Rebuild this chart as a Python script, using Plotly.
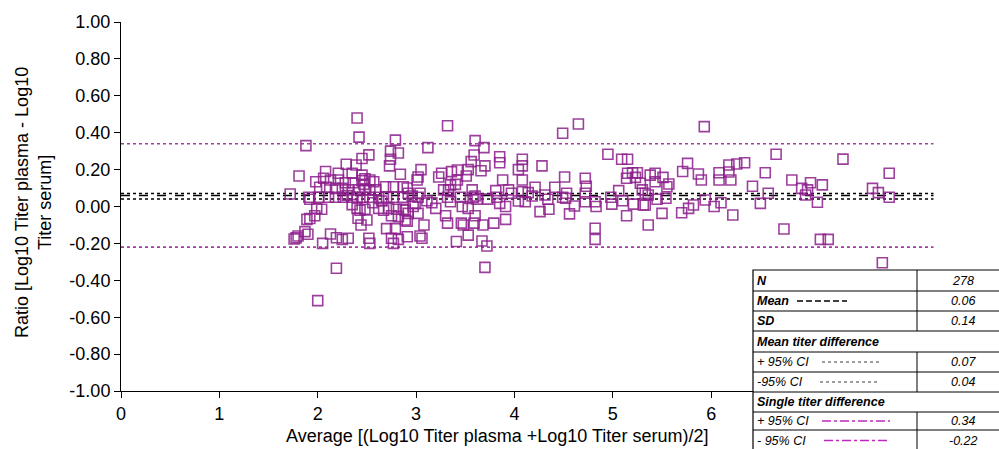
import plotly.graph_objects as go

# ---- data ----
avg_titer = [
    1.72, 1.76, 1.78, 1.81, 1.88, 2.08, 2.21, 2.35, 2.45, 2.48, 1.98, 2.06, 2.13, 2.21, 2.28, 2.36,
    2.45, 2.47, 2.53, 2.57, 2.69, 2.77, 2.87, 2.02, 2.09, 2.18, 2.25, 2.31, 2.42, 2.48, 2.53, 2.59,
    1.91, 2.01, 2.11, 2.18, 2.26, 2.35, 2.40, 2.46, 2.53, 2.62, 2.70, 2.77, 2.87, 1.92, 1.99, 2.04,
    1.97, 2.40, 2.43, 2.48, 2.62, 2.67, 2.72, 2.80, 2.87, 1.89, 1.92, 2.41, 2.50, 2.75, 2.82, 2.89,
    2.44, 2.70, 2.79, 2.13, 2.19, 2.25, 2.31, 2.52, 2.53, 1.87, 1.90, 1.80, 2.05, 2.75, 2.82, 2.77,
    2.91, 2.19, 2.00, 2.40, 2.42, 2.79, 2.74, 2.82, 2.52, 2.45, 2.74, 2.39, 2.29, 2.73, 2.84,
    2.30, 2.56, 2.65, 2.35,
    3.32, 3.12, 3.60, 3.69, 3.59, 3.56, 3.85, 3.85, 4.08, 4.08, 3.70, 3.66, 3.53, 3.42, 3.36, 3.05,
    3.26, 3.23, 3.02, 3.01, 3.51, 3.42, 3.40, 4.04, 4.08, 3.88, 3.35, 3.33, 2.91, 2.92, 3.04, 3.28,
    3.57, 3.60, 3.81, 3.82, 3.94, 3.97, 4.08, 4.04, 4.11, 2.96, 3.02, 2.99, 3.11, 3.16, 3.32, 3.35,
    3.45, 3.58, 3.62, 3.73, 3.85, 3.91, 2.97, 2.89, 2.92, 3.20, 3.47, 3.53, 3.02, 3.30, 3.60, 2.91,
    3.91, 3.32, 3.46, 3.48, 3.59, 3.68, 3.79, 3.08, 3.53, 3.04, 3.06, 3.41, 3.67, 3.72, 3.70,
    4.65, 4.49, 4.95, 5.09, 5.15, 4.28, 4.51, 4.72, 4.73, 5.15, 5.20, 5.25, 5.23, 5.14, 5.28, 5.30,
    5.38, 4.21, 4.41, 4.14, 4.18, 4.31, 4.34, 4.49, 4.53, 4.52, 4.72, 4.72, 4.82, 4.83, 4.98, 4.99,
    5.06, 5.10, 5.21, 5.31, 4.26, 4.35, 4.56, 4.61, 5.14, 5.36, 4.82, 4.82,
    5.93, 5.76, 5.71, 5.43, 5.43, 5.51, 5.57, 5.55, 5.87, 5.90, 6.08, 6.08, 6.18, 6.26, 6.34, 6.18,
    6.20, 6.55, 6.42, 5.33, 5.36, 5.33, 5.45, 5.54, 5.94, 6.03, 6.10, 5.82, 5.77, 6.50, 6.58, 5.70,
    5.50, 6.22,
    6.66, 7.34, 6.82, 7.81, 6.92, 7.01, 7.13, 6.98, 6.96, 7.08, 7.64, 7.70, 7.81, 6.74, 7.11, 7.19,
    7.74,
]
log_ratio = [
    0.068, -0.176, -0.170, 0.165, 0.330, 0.190, 0.180, 0.180, 0.170, 0.150, 0.134, 0.153, 0.144, 0.144, 0.129, 0.129,
    0.140, 0.120, 0.144, 0.134, 0.107, 0.107, 0.107, 0.104, 0.104, 0.098, 0.098, 0.090, 0.090, 0.090, 0.090, 0.090,
    0.050, 0.050, 0.050, 0.050, 0.050, 0.050, 0.050, 0.050, 0.050, 0.050, 0.050, 0.050, 0.050, 0.039, -0.010, -0.015,
    -0.050, -0.010, -0.020, -0.015, -0.010, -0.020, -0.010, -0.015, -0.015, -0.070, -0.065, -0.064, -0.073, -0.050, -0.055, -0.073,
    -0.100, -0.120, -0.120, -0.149, -0.169, -0.178, -0.172, -0.172, -0.200, -0.136, -0.150, -0.160, -0.200, -0.172, -0.178, -0.200,
    -0.164, -0.335, -0.510, 0.480, 0.376, 0.360, 0.300, 0.290, 0.280, 0.260, 0.256, 0.225, 0.229, 0.220, 0.175,
    0.060, 0.020, 0.030, 0.010,
    0.438, 0.319, 0.357, 0.319, 0.279, 0.243, 0.270, 0.237, 0.256, 0.220, 0.220, 0.194, 0.200, 0.198, 0.189, 0.200,
    0.180, 0.160, 0.160, 0.144, 0.165, 0.144, 0.120, 0.200, 0.144, 0.144, 0.117, 0.090, 0.100, 0.072, 0.072, 0.090,
    0.090, 0.057, 0.086, 0.050, 0.090, 0.072, 0.080, 0.030, 0.026, 0.057, 0.050, 0.017, 0.031, 0.020, 0.050, 0.026,
    0.050, 0.050, 0.040, 0.040, 0.017, 0.000, 0.000, -0.020, -0.037, -0.010, 0.000, -0.010, -0.037, -0.050, -0.050, -0.080,
    -0.070, -0.090, -0.090, -0.100, -0.090, -0.100, -0.090, -0.100, -0.155, -0.160, -0.172, -0.190, -0.187, -0.214, -0.330,
    0.447, 0.397, 0.283, 0.256, 0.256, 0.220, 0.160, 0.153, 0.110, 0.180, 0.183, 0.183, 0.158, 0.153, 0.126, 0.090,
    0.170, 0.104, 0.104, 0.075, 0.057, 0.062, 0.039, 0.050, 0.072, 0.045, 0.072, 0.026, 0.026, 0.000, 0.050, 0.013,
    0.086, 0.031, 0.013, 0.008, -0.028, -0.015, -0.040, 0.003, -0.050, -0.100, -0.118, -0.178,
    0.433, 0.234, 0.190, 0.180, 0.134, 0.158, 0.122, 0.107, 0.176, 0.144, 0.183, 0.144, 0.225, 0.230, 0.237, 0.187,
    0.144, 0.183, 0.110, 0.072, 0.062, 0.008, 0.039, 0.045, 0.035, 0.000, 0.020, 0.008, -0.010, 0.017, 0.072, -0.034,
    -0.037, -0.046,
    0.283, 0.257, 0.144, 0.180, 0.098, 0.129, 0.117, 0.090, 0.062, 0.023, 0.098, 0.075, 0.050, -0.122, -0.178, -0.178,
    -0.305,
]

stat_labels = ["N", "Mean", "SD", "Mean titer difference", "+ 95% CI", "-95% CI",
               "Single titer difference", "+ 95% CI", "- 95% CI"]
stat_values = ["278", "0.06", "0.14", "", "0.07", "0.04", "", "0.34", "-0.22"]
mean_diff = 0.06
mean_ci = [0.07, 0.04]
single_ci = [0.34, -0.22]
y_ticks = [1.0, 0.8, 0.6, 0.4, 0.2, 0.0, -0.2, -0.4, -0.6, -0.8, -1.0]
x_ticks = [0, 1, 2, 3, 4, 5, 6, 7, 8]

PURPLE = "rgb(140,30,140)"
LINE_PURPLE = "rgb(165,60,165)"
FONT = "Liberation Sans, Arial, sans-serif"

W, H = 999, 449
L, R, T, B = 121, 37, 22, 58
PW, PH = W - L - R, H - T - B


def px(x):
    return (x - L) / PW


def py(y):
    return (H - B - y) / PH


fig = go.Figure()
fig.add_trace(go.Scatter(
    x=avg_titer, y=log_ratio, mode="markers",
    marker=dict(symbol="square-open", size=10, color=PURPLE, line=dict(width=1.6, color=PURPLE), opacity=0.85),
    showlegend=False, hoverinfo="x+y",
))

shapes = []
x_end = 8.26
shapes.append(dict(type="line", xref="x", yref="y", x0=0, x1=x_end, y0=mean_diff, y1=mean_diff,
                   line=dict(color="black", width=1.5, dash="dash"), layer="below"))
for v in mean_ci:
    shapes.append(dict(type="line", xref="x", yref="y", x0=0, x1=x_end, y0=v, y1=v,
                       line=dict(color="black", width=1.5, dash="dot"), layer="below"))
for v in single_ci:
    shapes.append(dict(type="line", xref="x", yref="y", x0=0, x1=x_end, y0=v, y1=v,
                       line=dict(color=LINE_PURPLE, width=1.6, dash="dot"), layer="below"))

# ---- statistics table ----
tx0, tx1, tcol = 753, 1002, 917
row_edges = [270, 291, 311, 331, 352, 372, 392, 412, 430, 451]
shapes.append(dict(type="rect", xref="paper", yref="paper", x0=px(tx0), x1=px(tx1),
                   y0=py(row_edges[-1]), y1=py(row_edges[0]), fillcolor="white",
                   line=dict(color="black", width=1.2), layer="above"))
for e in row_edges[1:-1]:
    shapes.append(dict(type="line", xref="paper", yref="paper", x0=px(tx0), x1=px(tx1),
                       y0=py(e), y1=py(e), line=dict(color="black", width=1), layer="above"))
for i in range(9):
    if i in (3, 6):
        continue
    shapes.append(dict(type="line", xref="paper", yref="paper", x0=px(tcol), x1=px(tcol),
                       y0=py(row_edges[i]), y1=py(row_edges[i + 1]), line=dict(color="black", width=1), layer="above"))

annotations = []
for i, (lab, val) in enumerate(zip(stat_labels, stat_values)):
    yc = py((row_edges[i] + row_edges[i + 1]) / 2)
    if i in (0, 1, 2, 3, 6):
        txt = "<b><i>%s</i></b>" % lab
    else:
        txt = "<i>%s</i>" % lab
    annotations.append(dict(xref="paper", yref="paper", x=px(tx0 + 3), y=yc, text=txt, showarrow=False,
                            xanchor="left", yanchor="middle", borderpad=0,
                            font=dict(family=FONT, size=12.5, color="black")))
    if val:
        annotations.append(dict(xref="paper", yref="paper", x=px(963), y=yc, text="<i>%s</i>" % val,
                                showarrow=False, xanchor="center", yanchor="middle", borderpad=0,
                                font=dict(family=FONT, size=12.5, color="black")))

# legend samples in table
samples = [(1, 797, 847, "black", "6px,3px", 1.4), (4, 822, 880, "rgb(60,60,60)", "dot", 1),
           (5, 820, 878, "rgb(60,60,60)", "dot", 1), (7, 822, 890, "rgb(190,40,190)", "dashdot", 1.4),
           (8, 824, 890, "rgb(190,40,190)", "dashdot", 1.4)]
for r, a, b, c, d, w in samples:
    yc = py((row_edges[r] + row_edges[r + 1]) / 2)
    shapes.append(dict(type="line", xref="paper", yref="paper", x0=px(a), x1=px(b), y0=yc, y1=yc,
                       line=dict(color=c, width=w, dash=d), layer="above"))

# axis titles
annotations.append(dict(xref="paper", yref="paper", x=px(33), y=py(203), textangle=-90,
                        text="Ratio [Log10 Titer plasma - Log10<br>Titer serum]", showarrow=False,
                        xanchor="center", yanchor="middle", font=dict(family=FONT, size=18, color="black")))
annotations.append(dict(xref="paper", yref="paper", x=px(497), y=py(436),
                        text="Average [(Log10 Titer plasma +Log10 Titer serum)/2]", showarrow=False,
                        xanchor="center", yanchor="middle", font=dict(family=FONT, size=18, color="black")))

fig.update_layout(
    width=W, height=H, margin=dict(l=L, r=R, t=T, b=B),
    paper_bgcolor="white", plot_bgcolor="white",
    shapes=shapes, annotations=annotations,
    font=dict(family=FONT, size=16, color="black"),
    xaxis=dict(range=[0, 8.55], tickvals=x_ticks, ticktext=[str(v) for v in x_ticks],
               showgrid=False, zeroline=False, showline=True, linecolor="black", linewidth=1,
               ticks="outside", ticklen=6, tickcolor="black", tickfont=dict(size=18), automargin=False),
    yaxis=dict(range=[-1, 1], tickvals=y_ticks, ticktext=["%.2f" % v for v in y_ticks],
               showgrid=False, zeroline=False, showline=True, linecolor="black", linewidth=1,
               ticks="outside", ticklen=6, tickcolor="black", tickfont=dict(size=18), automargin=False),
)

fig.write_html("out.html", config={"displayModeBar": False},
               post_script="document.body.style.margin='0';document.body.style.padding='0';")
